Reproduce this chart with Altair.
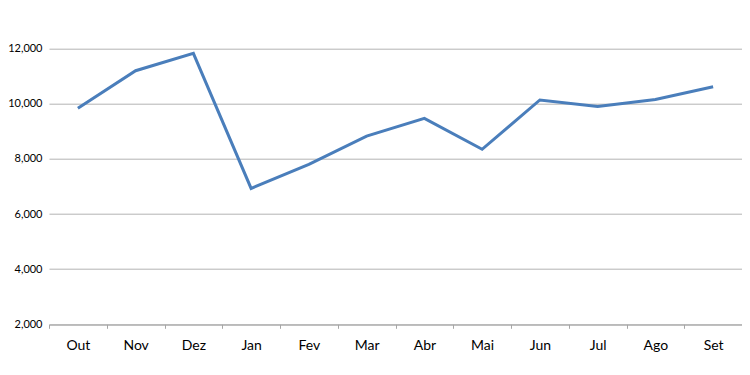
import altair as alt
import pandas as pd

months = ["Out", "Nov", "Dez", "Jan", "Fev", "Mar", "Abr", "Mai", "Jun", "Jul", "Ago", "Set"]
values = [9840, 11200, 11830, 6930, 7800, 8830, 9470, 8350, 10140, 9900, 10160, 10620]

df = pd.DataFrame({"month": months, "value": values})

chart = alt.Chart(df).mark_line(color="#4a7ebb", strokeWidth=3).encode(
    x=alt.X("month:N", sort=months, title=None,
            scale=alt.Scale(paddingInner=0, paddingOuter=0),
            axis=alt.Axis(labelAngle=0, tickBand="extent", tickSize=4, tickColor="#a6a6a6",
                          domainColor="#a6a6a6", domainWidth=1, labelPadding=10,
                          labelFont="Lato", labelFontSize=14, labelColor="#000000",
                          grid=False)),
    y=alt.Y("value:Q", title=None,
            scale=alt.Scale(domain=[2000, 12000], nice=False),
            axis=alt.Axis(values=[2000, 4000, 6000, 8000, 10000, 12000], format=",d",
                          ticks=False, domain=False, labelPadding=7,
                          labelFont="Lato", labelFontSize=11, labelColor="#000000",
                          grid=True, gridColor="#b3b3b3", gridWidth=1)),
).properties(
    width=693,
    height=275.6,
    autosize=alt.AutoSizeParams(type="none"),
    padding={"left": 41, "top": 40.7, "right": 0, "bottom": 40},
).configure_view(stroke=None)

chart.save("out.html", embed_options={"renderer": "svg", "actions": False})
